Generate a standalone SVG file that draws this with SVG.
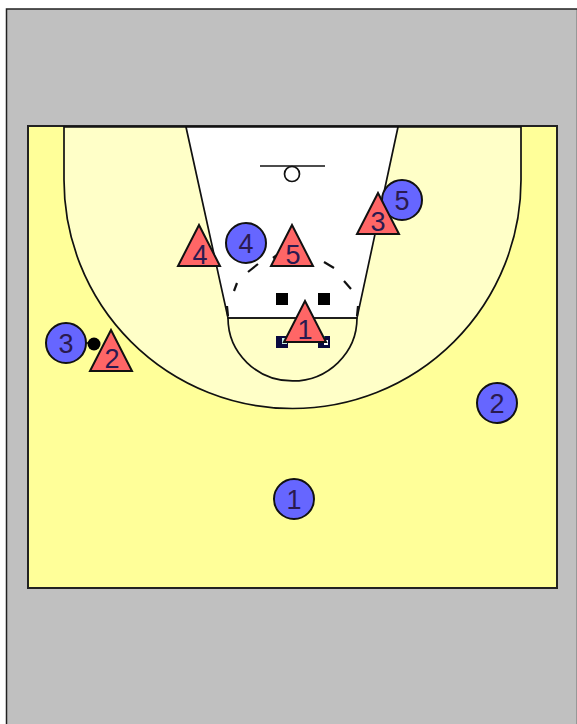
<svg xmlns="http://www.w3.org/2000/svg" width="577" height="724" viewBox="0 0 577 724">
<style>
.ln{fill:none;stroke:#111;stroke-width:1.7}
.dash{fill:none;stroke:#111;stroke-width:2.200}
.off circle{fill:#6666ff;stroke:#111;stroke-width:2}
.def polygon{fill:#ff6666;stroke:#111;stroke-width:2;stroke-linejoin:miter}
text{font-family:"Liberation Sans",Arial,sans-serif;font-size:27px;fill:#2a1a50;text-anchor:middle}
</style>
<rect width="577" height="724" fill="#fff"/>
<rect x="6.500" y="9" width="571" height="716" fill="#c0c0c0" stroke="#222" stroke-width="1.500"/>
<g id="court">
<rect x="28" y="126" width="529" height="462" fill="#ffff99" stroke="#222" stroke-width="2"/>
<path d="M64 127V180A228.500 228.500 0 0 0 521 180V127Z" fill="#ffffc8" stroke="#111" stroke-width="1.700"/>
<path d="M186 127H398L357 318H228Z" fill="#fff" stroke="#111" stroke-width="1.700"/>
<path class="ln" d="M228 318A64.500 63 0 0 0 357 318"/>
<path class="ln" d="M228 318H357"/>
<path class="dash" d="M227 306L228 316M358 306L357 316"/>
<path class="dash" d="M234 291L237 283M248 272L258 264M273 258L277 255M324 262L334 268M344 281L351 289"/>
<path class="ln" d="M260 166H325"/>
<circle cx="292" cy="174" r="7.500" fill="#fff" stroke="#111" stroke-width="1.700"/>
<rect x="276" y="293" width="12" height="12" fill="#000"/>
<rect x="318" y="293" width="12" height="12" fill="#000"/>
<rect x="276" y="336" width="12" height="12" fill="#0a0a40"/>
<rect x="318" y="336" width="12" height="12" fill="#0a0a40"/>
<rect x="282" y="338" width="5" height="6" fill="#c8f0e8"/>
<rect x="319" y="336" width="6" height="7" fill="#109a90"/>
<rect x="324" y="340" width="4" height="5" fill="#fff"/>
</g>
<g id="connectors">
<path d="M78 343H94" stroke="#000" stroke-width="1.500"/>
<circle cx="94" cy="344" r="6.500" fill="#000"/>
</g>
<g id="offense-1" class="off"><circle cx="294" cy="499" r="20"/><text x="294" y="509">1</text></g>
<g id="offense-2" class="off"><circle cx="497" cy="403" r="20"/><text x="497" y="413">2</text></g>
<g id="offense-3" class="off"><circle cx="66" cy="343" r="20"/><text x="66" y="353">3</text></g>
<g id="offense-4" class="off"><circle cx="246" cy="243" r="20"/><text x="246" y="253">4</text></g>
<g id="offense-5" class="off"><circle cx="402" cy="200" r="20"/><text x="402" y="210">5</text></g>
<g id="defense-1" class="def"><polygon points="305,301 326,342 284,342"/><text x="305" y="339">1</text></g>
<g id="defense-2" class="def"><polygon points="111,330 132,371 90,371"/><text x="112" y="368">2</text></g>
<g id="defense-3" class="def"><polygon points="378,193 399,234 357,234"/><text x="378" y="231">3</text></g>
<g id="defense-4" class="def"><polygon points="199,225 220,266 178,266"/><text x="200" y="264">4</text></g>
<g id="defense-5" class="def"><polygon points="292,225 313,266 271,266"/><text x="293" y="264">5</text></g>
</svg>
